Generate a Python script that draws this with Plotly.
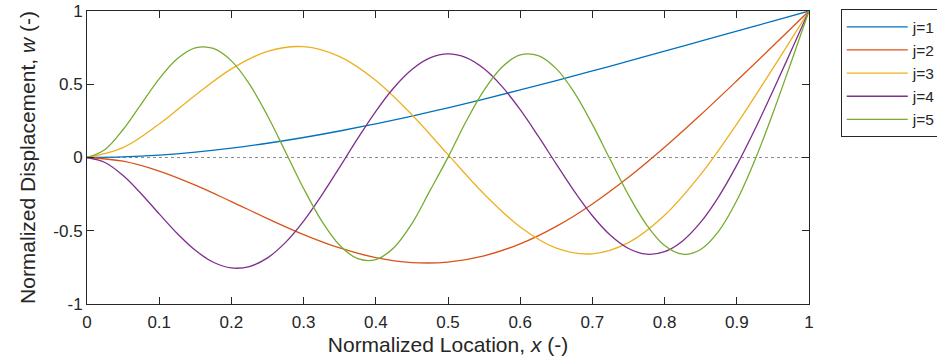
import plotly.graph_objects as go

# ---------------- data ----------------
x_coarse = [0.0, 0.05, 0.1, 0.15, 0.2, 0.25, 0.3, 0.35, 0.4, 0.45, 0.5,
            0.55, 0.6, 0.65, 0.7, 0.75, 0.8, 0.85, 0.9, 0.95, 1.0]

x_fine = [0.0, 0.025, 0.05, 0.075, 0.1, 0.125, 0.15, 0.175, 0.2, 0.225,
          0.25, 0.275, 0.3, 0.325, 0.35, 0.375, 0.4, 0.425, 0.45, 0.475,
          0.5, 0.525, 0.55, 0.575, 0.6, 0.625, 0.65, 0.675, 0.7, 0.725,
          0.75, 0.775, 0.8, 0.825, 0.85, 0.875, 0.9, 0.925, 0.95, 0.975, 1.0]

w_j1 = [0.0, 0.0043, 0.0168, 0.0368, 0.0639, 0.0973, 0.1365, 0.1809, 0.2299,
        0.2830, 0.3395, 0.3991, 0.4611, 0.5252, 0.5909, 0.6577, 0.7255,
        0.7938, 0.8624, 0.9312, 1.0]

w_j2 = [0.0, -0.0254, -0.0926, -0.1888, -0.3011, -0.4170, -0.5261, -0.6177,
        -0.6835, -0.7170, -0.7137, -0.6712, -0.5895, -0.4702, -0.3170,
        -0.1350, 0.0701, 0.2917, 0.5238, 0.7607, 1.0]

w_j3 = [0.0, 0.0670, 0.2281, 0.4249, 0.6046, 0.7245, 0.7563, 0.6881, 0.5259,
        0.2918, 0.0197, -0.2493, -0.4738, -0.6180, -0.6574, -0.5814, -0.3948,
        -0.1158, 0.2286, 0.6086, 1.0]

w_j4 = [0.0, -0.0343, -0.1235, -0.2470, -0.3850, -0.5193, -0.6337, -0.7151,
        -0.7538, -0.7442, -0.6852, -0.5794, -0.4339, -0.2585, -0.0658, 0.1304,
        0.3156, 0.4762, 0.6005, 0.6794, 0.7071, 0.6817, 0.6053, 0.4838, 0.3265,
        0.1455, -0.0452, -0.2310, -0.3974, -0.5312, -0.6214, -0.6602, -0.6430,
        -0.5692, -0.4416, -0.2664, -0.0520, 0.1914, 0.4536, 0.7253, 1.0]

w_j5 = [0.0, 0.0551, 0.1911, 0.3651, 0.5372, 0.6734, 0.7476, 0.7443, 0.6596,
        0.5008, 0.2852, 0.0380, -0.2113, -0.4327, -0.5993, -0.6910, -0.6966,
        -0.6156, -0.4511, -0.2264, 0.0009, 0.2457, 0.4603, 0.6184, 0.7003,
        0.6961, 0.6065, 0.4429, 0.2257, -0.0175, -0.2560, -0.4592, -0.6005,
        -0.6601, -0.6276, -0.5025, -0.2940, -0.0188, 0.3021, 0.6472, 1.0]

series_names = ["j=1", "j=2", "j=3", "j=4", "j=5"]

x_tickvals = [0, 0.1, 0.2, 0.3, 0.4, 0.5, 0.6, 0.7, 0.8, 0.9, 1]
x_ticktext = ["0", "0.1", "0.2", "0.3", "0.4", "0.5", "0.6", "0.7", "0.8", "0.9", "1"]
y_tickvals = [-1, -0.5, 0, 0.5, 1]
y_ticktext = ["-1", "-0.5", "0", "0.5", "1"]

# ---------------- styling ----------------
colors = ["#0072BD", "#D95319", "#EDB120", "#7E2F8E", "#77AC30"]
FONT = "Liberation Sans, Arial, Helvetica, sans-serif"
AX = "#262626"

fig = go.Figure()
xs = [x_coarse, x_coarse, x_coarse, x_fine, x_fine]
ys = [w_j1, w_j2, w_j3, w_j4, w_j5]
for name, xv, yv, c in zip(series_names, xs, ys, colors):
    fig.add_trace(go.Scatter(
        x=xv, y=yv, mode="lines", name=name,
        line=dict(color=c, width=1.3, shape="spline", smoothing=1.0),
    ))

fig.add_shape(type="line", xref="x", yref="y", x0=0, x1=1, y0=0, y1=0,
              line=dict(color="#8c8c8c", width=1, dash="dot"), layer="below")

axis_common = dict(
    showline=True, linecolor=AX, linewidth=1, mirror="ticks",
    ticks="inside", ticklen=7, tickwidth=1, tickcolor=AX,
    showgrid=False, zeroline=False, automargin=False,
    tickfont=dict(family=FONT, size=17, color=AX),
    title_font=dict(family=FONT, size=21, color=AX),
)

fig.update_xaxes(range=[0, 1], tickmode="array", tickvals=x_tickvals,
                 ticktext=x_ticktext, ticklabelstandoff=3,
                 title_text="Normalized Location, <i>x</i> (-)",
                 title_standoff=5, **axis_common)
fig.update_yaxes(range=[-1, 1], tickmode="array", tickvals=y_tickvals,
                 ticktext=y_ticktext,
                 title_text="Normalized Displacement, <i>w</i> (-)",
                 title_standoff=11, **axis_common)

fig.update_layout(
    width=937, height=363,
    margin=dict(l=87, r=128, t=11, b=59, autoexpand=False),
    paper_bgcolor="white", plot_bgcolor="white",
    showlegend=True,
    legend=dict(
        x=1.044, y=1.006, xanchor="left", yanchor="top",
        bgcolor="white", bordercolor=AX, borderwidth=1,
        font=dict(family=FONT, size=15.5, color=AX),
        itemwidth=61, tracegroupgap=0,
    ),
)

fig.write_html(
    "out.html",
    config={"displayModeBar": False},
    post_script="document.body.style.margin='0';document.body.style.overflow='hidden';",
)
